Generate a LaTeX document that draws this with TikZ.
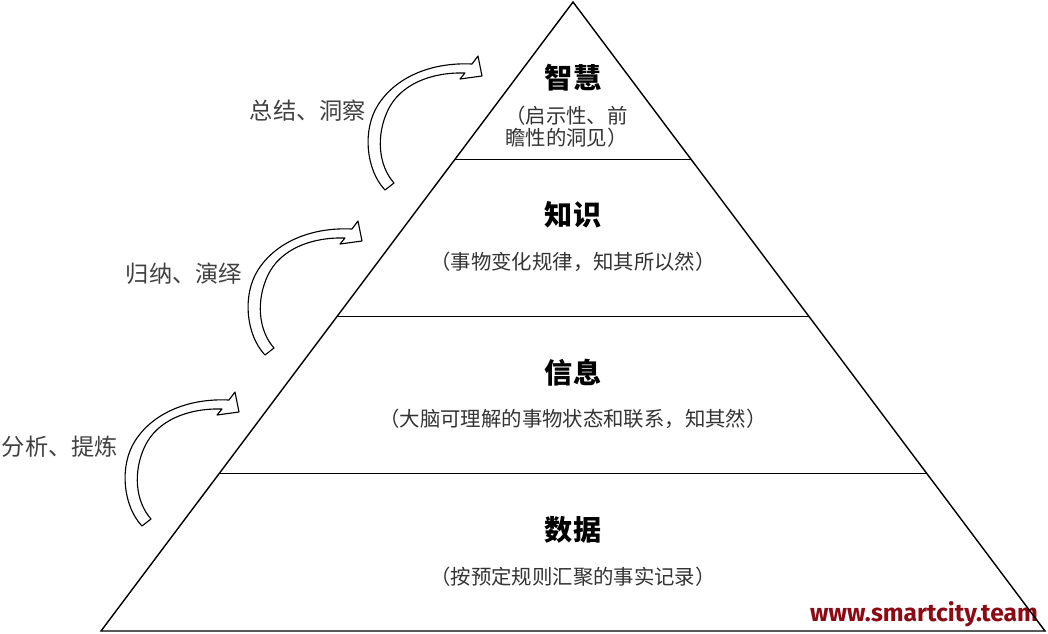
\documentclass[tikz,border=0pt]{standalone}
\usepackage{fontspec}
\newfontfamily\cjk{Noto Sans CJK SC}
\newfontfamily\webfont{Fira Sans}
\usepackage{tikz}
\usetikzlibrary{calc, positioning}
\definecolor{webred}{RGB}{140,10,20}

\tikzset{
  bendarrow/.pic={
    \draw[line width=0.8pt, line join=round, fill=white]
      (0,0) .. controls (-19,-20) and (-23,-60) .. (-7,-85)
            .. controls (10,-112) and (45,-128) .. (87,-126)
      -- (93,-134) -- (97,-114) -- (75,-111) -- (80,-117)
            .. controls (45,-118) and (15,-105) .. (3,-80)
            .. controls (-9,-55) and (-7,-25) .. (9,-7)
      -- cycle;
  }
}

\begin{document}
\begin{tikzpicture}[x=0.025cm, y=-0.025cm, line width=1pt,
  title/.style={font=\cjk\bfseries\fontsize{20}{24}\selectfont},
  note/.style={font=\cjk\fontsize{14.5}{15.5}\selectfont, text=black!80},
  verb/.style={font=\cjk\fontsize{16.5}{18}\selectfont, text=black!75}]
\useasboundingbox (0,0) rectangle (1048,633);

\node[font=\webfont\bfseries\fontsize{17.5}{20}\selectfont, text=webred] (web) at (924,614) {www.smartcity.team};

% pyramid
\coordinate (top) at (573,2);
\coordinate (bl) at (101,631);
\coordinate (br) at (1045,631);
\draw (top) -- (bl) -- (br) -- cycle;
\foreach \f in {0.25,0.5,0.75}
  \draw ($(top)!\f!(bl)$) -- ($(top)!\f!(br)$);

% levels
\node[title] (wisdom) at (573,78) {智慧};
\node[note, align=left, anchor=west] (wisdomnote) at (500,127) {（启示性、前\\瞻性的洞见）};
\node[title] (knowledge) at (573,215) {知识};
\node[note] (knowledgenote) at (573,262) {（事物变化规律，知其所以然）};
\node[title] (info) at (573,373) {信息};
\node[note] (infonote) at (573,419) {（大脑可理解的事物状态和联系，知其然）};
\node[title] (data) at (573,530) {数据};
\node[note] (datanote) at (573,577) {（按预定规则汇聚的事实记录）};

% steps
\node[verb] (v1) at (308,111) {总结、洞察};
\node[verb] (v2) at (184,274) {归纳、演绎};
\node[verb] (v3) at (60,447) {分析、提炼};
\pic at (385,190) {bendarrow};
\pic at (265,355) {bendarrow};
\pic at (142,526) {bendarrow};
%
\end{tikzpicture}
\end{document}
